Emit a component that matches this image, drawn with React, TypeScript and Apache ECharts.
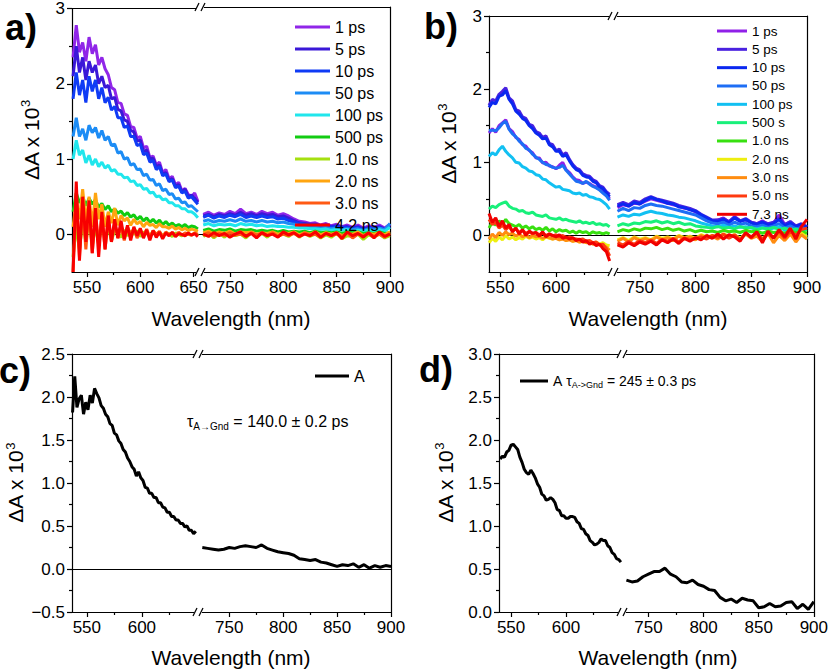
import React, { useEffect, useRef } from "react";
import * as echarts from "echarts";

const FONT = '"Liberation Sans", Arial, Helvetica, sans-serif';

// ---------------- Panel a ----------------
const aWlLeft = [537, 540, 543, 546, 549, 552, 555, 558, 561, 564, 567, 570, 573, 576, 579, 582, 585, 588, 591, 594, 597, 600, 603, 606, 609, 612, 615, 618, 621, 624, 627, 630, 633, 636, 639, 642, 645, 648, 651, 654];
const aWlRight = [725, 730, 735, 740, 745, 750, 755, 760, 765, 770, 775, 780, 785, 790, 795, 800, 805, 810, 815, 820, 825, 830, 835, 840, 845, 850, 855, 860, 865, 870, 875, 880, 885, 890, 895, 900];
const aLabels = ["1 ps", "5 ps", "10 ps", "50 ps", "100 ps", "500 ps", "1.0 ns", "2.0 ns", "3.0 ns", "4.2 ns"];
const aColors = ["#9026E8", "#3A18D8", "#0F3BF5", "#1C8CF5", "#20E6EC", "#12CC12", "#A5E010", "#FFA510", "#FF5A14", "#F80000"];

const a1psL = [2.35, 2.78, 2.42, 2.55, 2.3, 2.62, 2.4, 2.52, 2.25, 2.35, 2.2, 2.12, 1.95, 1.92, 1.75, 1.74, 1.6, 1.58, 1.43, 1.42, 1.28, 1.3, 1.15, 1.17, 1.02, 1.04, 0.92, 0.96, 0.82, 0.86, 0.74, 0.77, 0.66, 0.69, 0.58, 0.61, 0.53, 0.5, 0.55, 0.44];
const a5psL = [2.1, 2.5, 2.15, 2.35, 2.05, 2.3, 2.15, 2.25, 2.0, 2.1, 1.95, 1.98, 1.8, 1.82, 1.66, 1.64, 1.52, 1.5, 1.38, 1.36, 1.24, 1.25, 1.1, 1.12, 1.0, 1.01, 0.9, 0.92, 0.8, 0.82, 0.72, 0.74, 0.64, 0.66, 0.56, 0.6, 0.5, 0.52, 0.48, 0.42];
const a10psL = [1.8, 2.15, 1.85, 2.05, 1.75, 2.1, 1.9, 2.05, 1.8, 1.95, 1.75, 1.82, 1.65, 1.7, 1.55, 1.55, 1.42, 1.44, 1.3, 1.3, 1.18, 1.2, 1.06, 1.08, 0.96, 0.98, 0.86, 0.9, 0.78, 0.8, 0.7, 0.72, 0.62, 0.64, 0.55, 0.57, 0.48, 0.5, 0.45, 0.4];
const a50psL = [1.3, 1.55, 1.3, 1.4, 1.25, 1.45, 1.35, 1.42, 1.28, 1.38, 1.25, 1.3, 1.18, 1.2, 1.08, 1.1, 1.0, 1.02, 0.92, 0.94, 0.86, 0.87, 0.78, 0.8, 0.72, 0.73, 0.65, 0.67, 0.58, 0.6, 0.53, 0.54, 0.47, 0.48, 0.42, 0.43, 0.37, 0.38, 0.34, 0.3];
const a100psL = [1.0, 1.25, 1.05, 1.12, 0.95, 1.05, 0.92, 1.0, 0.9, 0.96, 0.88, 0.92, 0.84, 0.86, 0.8, 0.8, 0.75, 0.76, 0.7, 0.71, 0.65, 0.66, 0.6, 0.61, 0.55, 0.56, 0.5, 0.51, 0.46, 0.47, 0.42, 0.42, 0.38, 0.38, 0.34, 0.34, 0.3, 0.3, 0.27, 0.22];
const a500psL = [0.3, 0.55, 0.42, 0.5, 0.38, 0.48, 0.4, 0.46, 0.36, 0.41, 0.33, 0.38, 0.3, 0.34, 0.28, 0.31, 0.25, 0.29, 0.23, 0.26, 0.2, 0.24, 0.18, 0.22, 0.16, 0.2, 0.15, 0.19, 0.13, 0.17, 0.12, 0.15, 0.11, 0.13, 0.1, 0.13, 0.09, 0.11, 0.1, 0.07];
const a1nsL = [-0.3, 0.1, -0.2, 0.15, -0.1, 0.2, -0.15, 0.1, -0.12, 0.12, -0.05, 0.08, -0.08, 0.05, 0.02, -0.04, 0.06, -0.02, 0.04, 0.0, 0.05, -0.03, 0.03, 0.01, -0.02, 0.04, 0.0, 0.03, -0.02, 0.02, 0.01, -0.03, 0.02, 0.0, -0.02, 0.01, 0.0, -0.01, 0.02, -0.02];
const a2nsL = [0.1, 0.45, 0.2, 0.6, 0.15, 0.5, 0.1, 0.55, 0.2, 0.4, 0.1, 0.3, 0.15, 0.35, 0.12, 0.25, 0.18, 0.22, 0.12, 0.2, 0.14, 0.17, 0.1, 0.16, 0.12, 0.13, 0.09, 0.14, 0.1, 0.1, 0.08, 0.11, 0.07, 0.09, 0.06, 0.08, 0.05, 0.07, 0.06, 0.04];
const a3nsL = [-0.5, 0.55, -0.3, 0.4, -0.2, 0.35, -0.25, 0.3, -0.15, 0.25, -0.2, 0.2, -0.1, 0.15, -0.05, 0.12, -0.08, 0.1, 0.0, 0.08, -0.05, 0.06, -0.02, 0.07, -0.04, 0.05, 0.0, 0.04, -0.03, 0.03, 0.0, 0.02, -0.02, 0.03, -0.01, 0.02, 0.0, -0.01, 0.02, 0.0];
const a42nsL = [-0.5, 0.7, -0.35, 0.5, -0.1, 0.45, -0.25, 0.35, -0.3, 0.3, -0.2, 0.25, -0.1, 0.2, -0.05, 0.18, -0.06, 0.12, -0.08, 0.1, -0.02, 0.08, -0.05, 0.06, -0.08, 0.05, -0.04, 0.03, -0.06, 0.02, -0.02, 0.03, -0.03, 0.01, 0.0, -0.02, 0.02, -0.01, 0.01, -0.03];

const a1psR = [0.26, 0.29, 0.25, 0.28, 0.26, 0.3, 0.27, 0.33, 0.27, 0.29, 0.26, 0.3, 0.27, 0.29, 0.25, 0.27, 0.24, 0.2, 0.17, 0.16, 0.14, 0.15, 0.12, 0.14, 0.11, 0.13, 0.1, 0.12, 0.09, 0.12, 0.08, 0.11, 0.09, 0.12, 0.08, 0.13];
const a5psR = [0.24, 0.26, 0.23, 0.26, 0.24, 0.27, 0.25, 0.29, 0.25, 0.27, 0.24, 0.27, 0.25, 0.26, 0.23, 0.24, 0.21, 0.18, 0.15, 0.14, 0.13, 0.13, 0.11, 0.12, 0.1, 0.11, 0.09, 0.1, 0.08, 0.1, 0.07, 0.09, 0.08, 0.1, 0.07, 0.11];
const a10psR = [0.22, 0.25, 0.21, 0.24, 0.22, 0.25, 0.23, 0.26, 0.22, 0.24, 0.22, 0.24, 0.22, 0.23, 0.2, 0.21, 0.18, 0.16, 0.14, 0.13, 0.12, 0.12, 0.1, 0.11, 0.09, 0.1, 0.08, 0.09, 0.07, 0.09, 0.06, 0.08, 0.07, 0.09, 0.06, 0.1];
const a50psR = [0.17, 0.19, 0.16, 0.18, 0.17, 0.19, 0.17, 0.2, 0.17, 0.18, 0.16, 0.18, 0.16, 0.17, 0.15, 0.16, 0.14, 0.13, 0.11, 0.1, 0.1, 0.09, 0.08, 0.09, 0.07, 0.08, 0.06, 0.07, 0.06, 0.07, 0.05, 0.07, 0.06, 0.08, 0.06, 0.14];
const a100psR = [0.12, 0.14, 0.11, 0.13, 0.12, 0.13, 0.11, 0.14, 0.12, 0.13, 0.11, 0.12, 0.1, 0.11, 0.1, 0.1, 0.09, 0.09, 0.08, 0.08, 0.07, 0.07, 0.06, 0.07, 0.05, 0.06, 0.05, 0.06, 0.04, 0.05, 0.04, 0.05, 0.04, 0.06, 0.04, 0.09];
const a500psR = [0.05, 0.07, 0.04, 0.06, 0.05, 0.07, 0.04, 0.06, 0.05, 0.06, 0.04, 0.05, 0.04, 0.05, 0.03, 0.05, 0.03, 0.04, 0.03, 0.04, 0.02, 0.04, 0.02, 0.03, 0.02, 0.03, 0.01, 0.03, 0.02, 0.03, 0.01, 0.02, 0.01, 0.03, 0.01, 0.02];
const a1nsR = [-0.03, 0.02, -0.05, 0.01, -0.04, 0.03, -0.02, 0.0, -0.05, 0.02, -0.03, 0.01, -0.04, 0.02, -0.02, 0.0, -0.03, 0.02, -0.04, 0.01, -0.03, 0.0, -0.05, -0.01, -0.04, 0.01, -0.06, -0.02, -0.03, 0.0, -0.07, -0.01, -0.04, 0.0, -0.05, -0.02];
const a2nsR = [0.02, 0.04, 0.0, 0.03, 0.01, 0.04, 0.0, 0.03, 0.02, 0.03, 0.0, 0.02, 0.01, 0.03, 0.0, 0.02, 0.01, 0.03, -0.01, 0.02, 0.0, 0.03, -0.01, 0.02, 0.0, 0.02, -0.02, 0.01, 0.0, 0.03, -0.02, 0.01, 0.0, 0.02, -0.01, 0.03];
const a3nsR = [-0.01, 0.02, -0.03, 0.01, -0.02, 0.02, -0.01, 0.0, -0.03, 0.02, -0.01, 0.01, -0.02, 0.02, -0.03, 0.0, -0.02, 0.01, -0.03, 0.02, -0.01, 0.0, -0.04, 0.01, -0.02, 0.0, -0.03, 0.02, -0.05, 0.0, -0.02, 0.01, -0.03, 0.0, -0.04, 0.01];
const a42nsR = [0.0, -0.03, 0.02, -0.02, 0.01, -0.04, 0.0, 0.03, -0.03, 0.01, -0.05, 0.02, -0.02, 0.0, -0.04, 0.03, -0.01, 0.02, -0.03, 0.0, -0.02, 0.03, -0.04, 0.01, -0.02, 0.02, -0.06, 0.03, -0.02, 0.01, -0.04, 0.02, -0.05, 0.03, -0.03, 0.0];

// ---------------- Panel b ----------------
const bWlLeft = [540, 543, 546, 549, 552, 555, 558, 561, 564, 567, 570, 573, 576, 579, 582, 585, 588, 591, 594, 597, 600, 603, 606, 609, 612, 615, 618, 621, 624, 627, 630, 633, 636, 639, 642, 645, 648];
const bWlRight = [730, 735, 740, 745, 750, 755, 760, 765, 770, 775, 780, 785, 790, 795, 800, 805, 810, 815, 820, 825, 830, 835, 840, 845, 850, 855, 860, 865, 870, 875, 880, 885, 890, 895, 900];
const bLabels = ["1 ps", "5 ps", "10 ps", "50 ps", "100 ps", "500 s", "1.0 ns", "2.0 ns", "3.0 ns", "5.0 ns", "7.3 ns"];
const bColors = ["#9020E8", "#4A22E0", "#0A28F0", "#1E6EF5", "#12C0F2", "#18F07A", "#38E010", "#EEEE10", "#FF8C10", "#FF3A10", "#F00000"];

const b1psL = [1.4, 1.46, 1.41, 1.5, 1.54, 1.58, 1.46, 1.42, 1.34, 1.31, 1.24, 1.22, 1.16, 1.13, 1.06, 1.06, 0.99, 1.0, 0.95, 0.94, 0.91, 0.96, 1.0, 0.9, 0.86, 0.8, 0.76, 0.75, 0.71, 0.73, 0.71, 0.68, 0.66, 0.63, 0.6, 0.56, 0.5];
const b5psL = [1.78, 1.86, 1.84, 1.93, 1.97, 2.02, 1.88, 1.84, 1.72, 1.7, 1.62, 1.6, 1.52, 1.5, 1.42, 1.4, 1.34, 1.36, 1.26, 1.24, 1.16, 1.18, 1.1, 1.13, 1.04, 0.97, 0.92, 0.9, 0.84, 0.82, 0.81, 0.76, 0.74, 0.68, 0.66, 0.6, 0.56];
const b10psL = [1.75, 1.82, 1.8, 1.9, 1.92, 1.98, 1.86, 1.8, 1.7, 1.66, 1.6, 1.57, 1.5, 1.46, 1.4, 1.37, 1.32, 1.33, 1.24, 1.21, 1.15, 1.15, 1.08, 1.1, 1.02, 0.95, 0.9, 0.88, 0.82, 0.8, 0.79, 0.74, 0.72, 0.66, 0.64, 0.58, 0.53];
const b50psL = [1.43, 1.44, 1.43, 1.47, 1.53, 1.56, 1.45, 1.39, 1.35, 1.29, 1.25, 1.19, 1.17, 1.11, 1.07, 1.04, 1.0, 0.97, 0.96, 0.93, 0.92, 0.93, 0.96, 0.89, 0.84, 0.79, 0.74, 0.73, 0.71, 0.74, 0.7, 0.67, 0.65, 0.62, 0.58, 0.54, 0.48];
const b100psL = [1.08, 1.13, 1.1, 1.17, 1.22, 1.15, 1.1, 1.06, 1.0, 0.99, 0.94, 0.92, 0.88, 0.87, 0.83, 0.82, 0.77, 0.76, 0.72, 0.69, 0.66, 0.67, 0.63, 0.62, 0.61, 0.58, 0.57, 0.58, 0.55, 0.56, 0.53, 0.52, 0.5, 0.49, 0.46, 0.42, 0.36];
const b500sL = [0.36, 0.4, 0.38, 0.42, 0.44, 0.46, 0.4, 0.37, 0.36, 0.33, 0.34, 0.31, 0.3, 0.32, 0.28, 0.27, 0.26, 0.28, 0.24, 0.23, 0.22, 0.24, 0.21, 0.22, 0.2, 0.19, 0.18, 0.2, 0.17, 0.18, 0.16, 0.18, 0.15, 0.16, 0.14, 0.15, 0.12];
const b1nsL = [0.1, 0.18, 0.14, 0.2, 0.15, 0.22, 0.16, 0.14, 0.12, 0.15, 0.1, 0.13, 0.09, 0.12, 0.08, 0.1, 0.07, 0.11, 0.06, 0.09, 0.05, 0.08, 0.06, 0.07, 0.04, 0.06, 0.03, 0.06, 0.04, 0.05, 0.02, 0.05, 0.03, 0.04, 0.02, 0.04, 0.02];
const b2nsL = [-0.1, -0.04, -0.08, -0.02, -0.06, 0.0, -0.05, -0.02, -0.06, -0.03, -0.05, -0.01, -0.04, -0.02, -0.05, -0.03, -0.06, -0.02, -0.04, -0.05, -0.03, -0.06, -0.04, -0.07, -0.05, -0.08, -0.06, -0.09, -0.07, -0.1, -0.08, -0.11, -0.09, -0.12, -0.1, -0.13, -0.14];
const b3nsL = [-0.05, 0.02, -0.03, 0.04, 0.0, 0.05, 0.01, 0.03, -0.01, 0.02, -0.02, 0.01, -0.03, 0.0, -0.02, -0.01, -0.04, -0.02, -0.03, -0.05, -0.04, -0.06, -0.05, -0.07, -0.06, -0.08, -0.07, -0.09, -0.08, -0.1, -0.09, -0.12, -0.11, -0.13, -0.14, -0.16, -0.2];
const b5nsL = [0.22, 0.15, 0.18, 0.1, 0.14, 0.08, 0.12, 0.06, 0.09, 0.04, 0.07, 0.03, 0.05, 0.02, 0.04, 0.01, 0.03, 0.0, 0.02, -0.01, 0.01, -0.02, 0.0, -0.03, -0.02, -0.04, -0.05, -0.06, -0.05, -0.08, -0.07, -0.1, -0.09, -0.13, -0.12, -0.18, -0.28];
const b73nsL = [0.3, 0.18, 0.24, 0.12, 0.2, 0.1, 0.15, 0.05, 0.1, 0.02, 0.08, 0.0, 0.06, 0.03, 0.04, -0.01, 0.05, -0.02, 0.02, 0.0, -0.02, 0.01, -0.04, -0.02, -0.05, -0.03, -0.07, -0.05, -0.09, -0.07, -0.12, -0.1, -0.14, -0.12, -0.18, -0.22, -0.35];

const b1psR = [0.38, 0.42, 0.4, 0.44, 0.43, 0.47, 0.5, 0.48, 0.46, 0.44, 0.42, 0.4, 0.37, 0.36, 0.32, 0.27, 0.23, 0.2, 0.21, 0.24, 0.18, 0.26, 0.2, 0.21, 0.18, 0.16, 0.2, 0.15, 0.17, 0.28, 0.15, 0.18, 0.13, 0.14, 0.12];
const b5psR = [0.42, 0.45, 0.42, 0.47, 0.45, 0.5, 0.53, 0.5, 0.48, 0.46, 0.44, 0.41, 0.39, 0.37, 0.34, 0.29, 0.25, 0.21, 0.21, 0.23, 0.19, 0.25, 0.2, 0.23, 0.18, 0.16, 0.19, 0.16, 0.18, 0.23, 0.15, 0.19, 0.13, 0.16, 0.12];
const b10psR = [0.4, 0.43, 0.4, 0.45, 0.43, 0.48, 0.52, 0.49, 0.47, 0.44, 0.43, 0.39, 0.38, 0.35, 0.33, 0.28, 0.24, 0.2, 0.19, 0.22, 0.17, 0.24, 0.19, 0.22, 0.17, 0.15, 0.18, 0.14, 0.16, 0.22, 0.13, 0.17, 0.12, 0.15, 0.11];
const b50psR = [0.33, 0.37, 0.34, 0.38, 0.37, 0.41, 0.43, 0.41, 0.4, 0.38, 0.36, 0.34, 0.32, 0.3, 0.28, 0.24, 0.2, 0.17, 0.16, 0.18, 0.14, 0.18, 0.15, 0.17, 0.13, 0.12, 0.14, 0.11, 0.13, 0.16, 0.1, 0.13, 0.09, 0.11, 0.08];
const b100psR = [0.25, 0.28, 0.26, 0.29, 0.28, 0.31, 0.33, 0.31, 0.3, 0.28, 0.27, 0.25, 0.24, 0.22, 0.2, 0.17, 0.15, 0.13, 0.12, 0.14, 0.11, 0.13, 0.11, 0.12, 0.1, 0.09, 0.11, 0.08, 0.1, 0.12, 0.07, 0.1, 0.06, 0.08, -0.05];
const b500sR = [0.13, 0.16, 0.14, 0.17, 0.16, 0.19, 0.18, 0.2, 0.17, 0.19, 0.16, 0.18, 0.15, 0.16, 0.13, 0.12, 0.11, 0.1, 0.12, 0.1, 0.11, 0.09, 0.12, 0.1, 0.11, 0.08, 0.1, 0.09, 0.11, 0.08, 0.1, 0.07, 0.09, 0.06, 0.08];
const b1nsR = [0.05, 0.08, 0.06, 0.09, 0.07, 0.1, 0.09, 0.11, 0.08, 0.1, 0.07, 0.09, 0.06, 0.08, 0.05, 0.07, 0.05, 0.06, 0.04, 0.07, 0.05, 0.06, 0.04, 0.07, 0.05, 0.06, 0.03, 0.06, 0.04, 0.05, 0.03, 0.06, 0.04, 0.05, 0.03];
const b2nsR = [-0.06, -0.03, -0.07, -0.02, -0.05, -0.03, -0.06, -0.01, -0.04, -0.02, -0.05, 0.0, -0.03, -0.01, -0.04, 0.01, -0.02, 0.0, -0.03, 0.02, -0.01, 0.01, -0.04, 0.02, -0.02, 0.0, -0.05, 0.03, -0.03, 0.01, -0.06, 0.02, -0.04, 0.03, -0.02];
const b3nsR = [-0.08, -0.04, -0.09, -0.03, -0.07, -0.04, -0.08, -0.02, -0.06, -0.03, -0.07, -0.01, -0.05, -0.02, -0.06, 0.0, -0.04, -0.01, -0.05, 0.01, -0.03, 0.0, -0.06, 0.02, -0.04, -0.01, -0.08, 0.03, -0.1, 0.0, -0.07, 0.02, -0.09, 0.01, -0.05];
const b5nsR = [-0.1, -0.13, -0.08, -0.12, -0.07, -0.1, -0.06, -0.11, -0.05, -0.08, -0.04, -0.09, -0.03, -0.06, -0.04, -0.02, -0.05, 0.0, -0.03, 0.02, -0.04, 0.01, -0.06, 0.03, -0.02, 0.04, -0.05, 0.02, -0.03, 0.05, -0.04, 0.06, 0.0, 0.08, 0.1];
const b73nsR = [-0.13, -0.16, -0.1, -0.14, -0.09, -0.12, -0.08, -0.13, -0.06, -0.1, -0.05, -0.11, -0.04, -0.08, -0.03, -0.06, 0.0, -0.04, 0.02, -0.05, 0.01, -0.02, -0.08, 0.04, -0.03, 0.05, -0.1, 0.06, -0.04, 0.08, -0.02, 0.1, -0.05, 0.12, 0.22];

// ---------------- Panel c ----------------
const cWlLeft = [537, 539, 541, 543, 545, 547, 549, 551, 553, 555, 557, 559, 561, 563, 565, 567, 569, 571, 573, 575, 577, 579, 581, 583, 585, 587, 589, 591, 593, 595, 597, 599, 601, 603, 605, 607, 609, 611, 613, 615, 617, 619, 621, 623, 625, 627, 629, 631, 633, 635, 637, 639, 641, 643, 645, 647, 649];
const cWlRight = [725, 730, 735, 740, 745, 750, 755, 760, 765, 770, 775, 780, 785, 790, 795, 800, 805, 810, 815, 820, 825, 830, 835, 840, 845, 850, 855, 860, 865, 870, 875, 880, 885, 890, 895, 900];
const cAL = [1.82, 2.24, 1.88, 1.98, 2.02, 1.8, 1.94, 1.85, 2.02, 1.93, 2.1, 2.04, 1.99, 1.9, 1.87, 1.8, 1.77, 1.69, 1.67, 1.58, 1.56, 1.49, 1.46, 1.39, 1.36, 1.29, 1.25, 1.19, 1.16, 1.08, 1.13, 1.06, 1.03, 0.95, 0.94, 0.88, 0.88, 0.83, 0.83, 0.77, 0.77, 0.72, 0.71, 0.66, 0.66, 0.61, 0.61, 0.57, 0.57, 0.53, 0.53, 0.49, 0.5, 0.45, 0.45, 0.41, 0.44];
const cAR = [0.25, 0.24, 0.23, 0.22, 0.23, 0.25, 0.24, 0.26, 0.27, 0.26, 0.25, 0.28, 0.24, 0.22, 0.2, 0.19, 0.18, 0.16, 0.12, 0.11, 0.1, 0.11, 0.08, 0.07, 0.05, 0.03, 0.05, 0.04, 0.06, 0.02, 0.05, 0.01, 0.04, 0.02, 0.04, 0.03];

// ---------------- Panel d ----------------
const dWlLeft = [540, 542, 544, 546, 548, 550, 552, 554, 556, 558, 560, 562, 564, 566, 568, 570, 572, 574, 576, 578, 580, 582, 584, 586, 588, 590, 592, 594, 596, 598, 600, 602, 604, 606, 608, 610, 612, 614, 616, 618, 620, 622, 624, 626, 628, 630, 632, 634, 636, 638, 640, 642, 644, 646, 648, 650];
const dWlRight = [730, 735, 740, 745, 750, 755, 760, 765, 770, 775, 780, 785, 790, 795, 800, 805, 810, 815, 820, 825, 830, 835, 840, 845, 850, 855, 860, 865, 870, 875, 880, 885, 890, 895, 900];
const dAL = [1.78, 1.81, 1.8, 1.86, 1.88, 1.94, 1.95, 1.92, 1.89, 1.8, 1.74, 1.66, 1.62, 1.6, 1.65, 1.61, 1.56, 1.49, 1.45, 1.37, 1.35, 1.3, 1.31, 1.33, 1.31, 1.27, 1.19, 1.18, 1.12, 1.12, 1.09, 1.09, 1.11, 1.11, 1.1, 1.05, 1.03, 0.97, 0.96, 0.91, 0.89, 0.83, 0.81, 0.78, 0.79, 0.81, 0.85, 0.83, 0.83, 0.77, 0.75, 0.69, 0.67, 0.62, 0.61, 0.58];
const dAR = [0.37, 0.35, 0.36, 0.41, 0.44, 0.47, 0.47, 0.51, 0.44, 0.41, 0.35, 0.34, 0.37, 0.32, 0.3, 0.26, 0.25, 0.17, 0.13, 0.15, 0.11, 0.16, 0.14, 0.13, 0.05, 0.06, 0.1, 0.06, 0.07, 0.11, 0.12, 0.04, 0.09, 0.03, 0.12];

// ticks
const xMajorLeftA = [550, 600, 650];
const xMajorLeft = [550, 600];
const xMinorLeft = [575, 625];
const xMajorRight = [750, 800, 850, 900];
const xMinorRight = [775, 825, 875];
const yMajorAB = [0, 1, 2, 3];
const yMinorAB = [0.5, 1.5, 2.5];
const yMajorC = [-0.5, 0, 0.5, 1, 1.5, 2, 2.5];
const yMinorC = [-0.25, 0.25, 0.75, 1.25, 1.75, 2.25];
const yMajorD = [0, 0.5, 1, 1.5, 2, 2.5, 3];
const yMinorD = [0.25, 0.75, 1.25, 1.75, 2.25, 2.75];

function pairs(xs: number[], ys: number[]) {
  const n = Math.min(xs.length, ys.length);
  const out: number[][] = [];
  for (let i = 0; i < n; i++) out.push([xs[i], ys[i]]);
  return out;
}

function buildPanel(opt: any, p: any) {
  const black = "#000";
  const lineOn = { show: true, onZero: false, lineStyle: { color: black, width: 1.2 } };
  const lineOff = { show: false, onZero: false };
  const tickStyle = { color: black, width: 1.2 };
  const labelStyle = { fontSize: 17, color: black, fontFamily: FONT, margin: 7 };

  const gL = opt.grid.length;
  opt.grid.push({ ...p.gridL, containLabel: false });
  const gR = opt.grid.length;
  opt.grid.push({ ...p.gridR, containLabel: false });

  const addX = (gi: number, range: number[], position: string, line: boolean, ticks: number[] | null, len: number, labels: number[] | null) => {
    opt.xAxis.push({
      type: "value", gridIndex: gi, min: range[0], max: range[1], position,
      axisLine: line ? lineOn : lineOff,
      axisTick: ticks ? { show: true, customValues: ticks, length: len, lineStyle: tickStyle } : { show: false },
      axisLabel: labels ? { ...labelStyle, customValues: labels } : { show: false },
      splitLine: { show: false },
      silent: true,
    });
    return opt.xAxis.length - 1;
  };
  const addY = (gi: number, position: string, line: boolean, ticks: number[] | null, len: number, labels: number[] | null, extra: any) => {
    opt.yAxis.push({
      type: "value", gridIndex: gi, min: p.y[0], max: p.y[1], position,
      axisLine: line ? lineOn : lineOff,
      axisTick: ticks ? { show: true, customValues: ticks, length: len, lineStyle: tickStyle } : { show: false },
      axisLabel: labels ? { ...labelStyle, customValues: labels, formatter: p.yFmt } : { show: false },
      splitLine: { show: false },
      silent: true,
      ...extra,
    });
    return opt.yAxis.length - 1;
  };

  const xL = addX(gL, p.xL, "bottom", true, p.xMajorL, 5, p.xMajorL);
  addX(gL, p.xL, "bottom", false, p.xMinorL, 3, null);
  addX(gL, p.xL, "top", true, null, 0, null);
  const xR = addX(gR, p.xR, "bottom", true, p.xMajorR, 5, p.xMajorR);
  addX(gR, p.xR, "bottom", false, p.xMinorR, 3, null);
  addX(gR, p.xR, "top", true, null, 0, null);

  const yL = addY(gL, "left", true, p.yMajor, 5, p.yMajor, {
    name: "ΔA x 10{sup|3}",
    nameLocation: "middle",
    nameGap: p.nameGap,
    nameRotate: 90,
    nameTextStyle: {
      fontSize: 21, color: black, fontFamily: FONT, lineHeight: 24,
      rich: { sup: { fontSize: 13, lineHeight: 13, verticalAlign: "top", color: black, fontFamily: FONT } },
    },
  });
  addY(gL, "left", false, p.yMinor, 3, null, {});
  const yR = addY(gR, "right", true, null, 0, null, {});

  p.series.forEach((s: any, i: number) => {
    const zero = p.zeroLine && i === 0
      ? { markLine: { silent: true, symbol: ["none", "none"], z: 1, label: { show: false }, lineStyle: { color: black, width: 1.2, type: "solid" }, data: [{ yAxis: 0 }] } }
      : {};
    const common = {
      type: "line", name: s.name, showSymbol: false, symbol: "none", silent: true,
      lineStyle: { color: s.color, width: p.lineWidth }, itemStyle: { color: s.color },
      emphasis: { disabled: true }, clip: true,
    };
    opt.series.push({ ...common, ...zero, xAxisIndex: xL, yAxisIndex: yL, data: pairs(p.wlL, s.left) });
    opt.series.push({ ...common, ...zero, xAxisIndex: xR, yAxisIndex: yR, data: pairs(p.wlR, s.right) });
  });

  opt.legend.push({
    show: true, orient: "vertical", left: p.legend.left, top: p.legend.top, padding: 0,
    itemWidth: p.legend.itemWidth, itemHeight: 3, itemGap: p.legend.itemGap,
    icon: "rect", selectedMode: false,
    formatter: p.legend.formatter,
    textStyle: { fontSize: p.legend.fontSize, lineHeight: p.legend.lineHeight, color: black, fontFamily: FONT, rich: p.legend.rich || {} },
    data: p.series.map((s: any) => ({ name: s.name, itemStyle: { color: s.color }, lineStyle: { color: s.color } })),
  });
}

function buildOption() {
  const opt: any = {
    animation: false,
    backgroundColor: "#fff",
    grid: [], xAxis: [], yAxis: [], series: [], legend: [],
  };
  const intFmt = (v: number) => String(v);
  const decFmt = (v: number) => (v < 0 ? "−" : "") + Math.abs(v).toFixed(1);

  const aL = [a1psL, a5psL, a10psL, a50psL, a100psL, a500psL, a1nsL, a2nsL, a3nsL, a42nsL];
  const aR = [a1psR, a5psR, a10psR, a50psR, a100psR, a500psR, a1nsR, a2nsR, a3nsR, a42nsR];
  buildPanel(opt, {
    gridL: { left: 72, top: 7, width: 128, height: 265 },
    gridR: { left: 200, top: 7, width: 190, height: 265 },
    xL: [536, 656], xR: [722, 900], y: [-0.5, 3],
    xMajorL: xMajorLeftA, xMinorL: xMinorLeft, xMajorR: xMajorRight, xMinorR: xMinorRight,
    yMajor: yMajorAB, yMinor: yMinorAB, yFmt: intFmt, nameGap: 29,
    wlL: aWlLeft, wlR: aWlRight, lineWidth: 3, zeroLine: true,
    series: aLabels.map((n, i) => ({ name: n, color: aColors[i], left: aL[i], right: aR[i] })),
    legend: { left: 295, top: 19, itemWidth: 35, itemGap: 6, fontSize: 16, lineHeight: 14 },
  });

  const bL = [b1psL, b5psL, b10psL, b50psL, b100psL, b500sL, b1nsL, b2nsL, b3nsL, b5nsL, b73nsL];
  const bR = [b1psR, b5psR, b10psR, b50psR, b100psR, b500sR, b1nsR, b2nsR, b3nsR, b5nsR, b73nsR];
  buildPanel(opt, {
    gridL: { left: 489, top: 16, width: 124, height: 256 },
    gridR: { left: 613, top: 16, width: 194, height: 256 },
    xL: [540, 651], xR: [726, 900], y: [-0.5, 3],
    xMajorL: xMajorLeft, xMinorL: xMinorLeft, xMajorR: xMajorRight, xMinorR: xMinorRight,
    yMajor: yMajorAB, yMinor: yMinorAB, yFmt: intFmt, nameGap: 29,
    wlL: bWlLeft, wlR: bWlRight, lineWidth: 3, zeroLine: true,
    series: bLabels.map((n, i) => ({ name: n, color: bColors[i], left: bL[i], right: bR[i] })),
    legend: { left: 717, top: 24, itemWidth: 30, itemGap: 4.33, fontSize: 13.5, lineHeight: 12 },
  });

  buildPanel(opt, {
    gridL: { left: 72, top: 354, width: 126, height: 258 },
    gridR: { left: 198, top: 354, width: 193, height: 258 },
    xL: [536.5, 651], xR: [721, 900], y: [-0.5, 2.5],
    xMajorL: xMajorLeft, xMinorL: xMinorLeft, xMajorR: xMajorRight, xMinorR: xMinorRight,
    yMajor: yMajorC, yMinor: yMinorC, yFmt: decFmt, nameGap: 37,
    wlL: cWlLeft, wlR: cWlRight, lineWidth: 3, zeroLine: true,
    series: [{ name: "A", color: "#000", left: cAL, right: cAR }],
    legend: { left: 315, top: 368, itemWidth: 34, itemGap: 0, fontSize: 16, lineHeight: 16 },
  });

  buildPanel(opt, {
    gridL: { left: 499, top: 354, width: 123, height: 258 },
    gridR: { left: 622, top: 354, width: 195, height: 258 },
    xL: [539, 651], xR: [726, 900], y: [0, 3],
    xMajorL: xMajorLeft, xMinorL: xMinorLeft, xMajorR: xMajorRight, xMinorR: xMinorRight,
    yMajor: yMajorD, yMinor: yMinorD, yFmt: decFmt, nameGap: 42,
    wlL: dWlLeft, wlR: dWlRight, lineWidth: 3, zeroLine: false,
    series: [{ name: "A", color: "#000", left: dAL, right: dAR }],
    legend: {
      left: 520, top: 373, itemWidth: 28, itemGap: 0, fontSize: 14, lineHeight: 16,
      formatter: () => "A {t|τ}{s|A->Gnd}{n| = 245 ± 0.3 ps}",
      rich: {
        t: { fontSize: 14, fontFamily: FONT, color: "#000" },
        s: { fontSize: 9, lineHeight: 9, verticalAlign: "bottom", fontFamily: FONT, color: "#000" },
        n: { fontSize: 14, fontFamily: FONT, color: "#000" },
      },
    },
  });

  const txt = (text: string, x: number, y: number, size: number, extra: any = {}) => ({
    type: "text", x, y, z: 100, silent: true,
    style: { text, fontSize: size, fontFamily: FONT, fill: "#000", align: "left", verticalAlign: "middle", ...extra },
  });
  // axis-break mark: white gap plus two slanted strokes
  const brk = (x: number, y: number) => ({
    type: "group", x, y, z: 100, silent: true,
    children: [
      { type: "rect", shape: { x: -4, y: -2, width: 8, height: 4 }, style: { fill: "#fff" }, z: 100 },
      { type: "line", shape: { x1: -5, y1: 4, x2: -1, y2: -4 }, style: { stroke: "#000", lineWidth: 1.2 }, z: 101 },
      { type: "line", shape: { x1: 1, y1: 4, x2: 5, y2: -4 }, style: { stroke: "#000", lineWidth: 1.2 }, z: 101 },
    ],
  });

  opt.graphic = [
    txt("a)", 5, 27, 36, { fontWeight: "bold" }),
    txt("b)", 424, 26, 36, { fontWeight: "bold" }),
    txt("c)", -1, 370, 36, { fontWeight: "bold" }),
    txt("d)", 419, 369, 36, { fontWeight: "bold" }),
    txt("Wavelength (nm)", 231, 318, 21, { align: "center" }),
    txt("Wavelength (nm)", 648, 318, 21, { align: "center" }),
    txt("Wavelength (nm)", 231, 657, 21, { align: "center" }),
    txt("Wavelength (nm)", 658, 657, 21, { align: "center" }),
    brk(200, 7), brk(200, 272), brk(613, 16), brk(613, 272),
    brk(198, 354), brk(198, 612), brk(622, 354), brk(622, 612),
    txt("{t|τ}{s|A→Gnd}{n| = 140.0 ± 0.2 ps}", 187, 421, 16, {
      rich: {
        t: { fontSize: 16, fontFamily: FONT, fill: "#000" },
        s: { fontSize: 10, lineHeight: 10, verticalAlign: "bottom", fontFamily: FONT, fill: "#000" },
        n: { fontSize: 16, fontFamily: FONT, fill: "#000" },
      },
      lineHeight: 20,
    }),
  ];
  return opt;
}

export default function App() {
  const ref = useRef<HTMLDivElement>(null);
  useEffect(() => {
    if (!ref.current) return;
    const chart = echarts.init(ref.current, null, { renderer: "svg" });
    chart.setOption(buildOption());
    return () => chart.dispose();
  }, []);
  return (
    <div
      ref={ref}
      style={{ position: "absolute", left: 0, top: 0, width: 831, height: 670, background: "#fff" }}
    />
  );
}
